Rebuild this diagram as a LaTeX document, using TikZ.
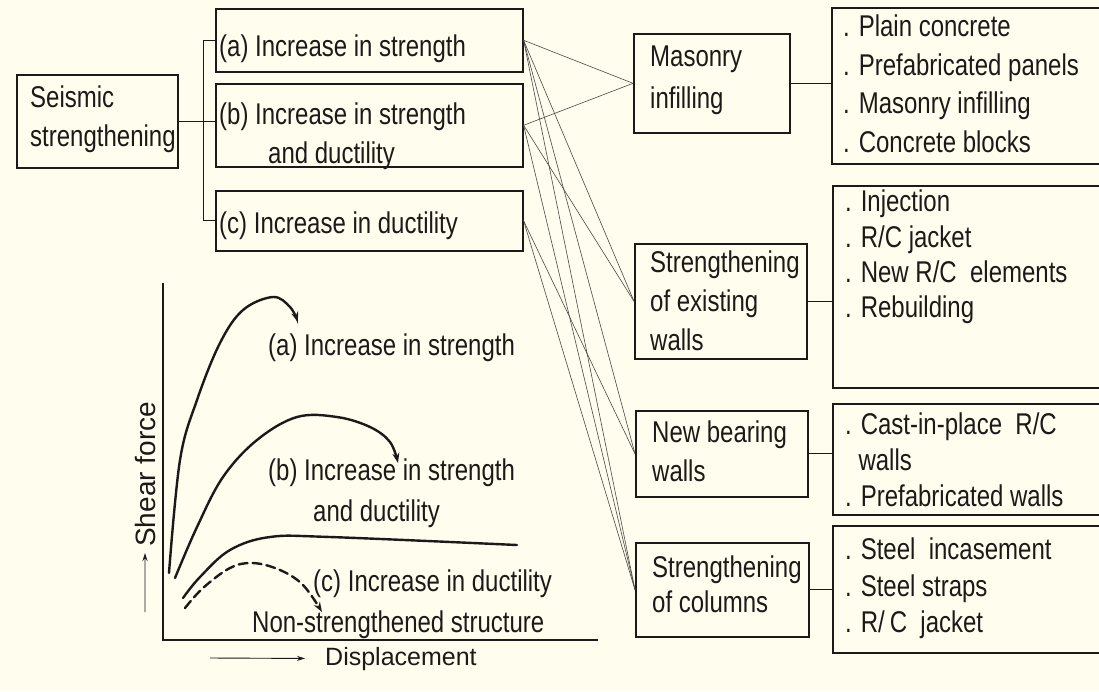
\documentclass[tikz,border=0pt]{standalone}
\usepackage{fontspec}
\setmainfont{Liberation Sans}[FakeStretch=0.8]
\newfontfamily\axisfont{Liberation Sans}
\usepackage{xcolor}
\usetikzlibrary{arrows.meta}
\usetikzlibrary{positioning}
\definecolor{paper}{RGB}{255,253,238}
\definecolor{ink}{RGB}{28,26,24}

\begin{document}
\begin{tikzpicture}[x=1pt,y=-1pt,
		box/.style={draw=ink, line width=1.6pt, anchor=north west, inner sep=0pt},
		txt/.style={ink, anchor=north west, inner sep=0pt, align=left},
		fan/.style={draw=ink!80, line width=0.6pt},
		link/.style={draw=ink, line width=0.9pt},
		curve/.style={draw=ink, line width=2.4pt, line cap=round},
		tip/.style={-{Stealth[length=10pt,width=7pt]}},
		axislbl/.style={ink, inner sep=0pt, font=\axisfont\fontsize{25}{30}\selectfont}]
	% paper
	\fill[paper] (0,0) rectangle (1099,691);
	\useasboundingbox (0,0) rectangle (1099,691);
	% left boxes
	\node[box, minimum width=161pt, minimum height=93pt] (seis) at (16,74) {};
	\node[box, minimum width=307pt, minimum height=63pt] (boxa) at (215,8) {};
	\node[box, minimum width=307pt, minimum height=83pt] (boxb) at (215,83) {};
	\node[box, minimum width=307pt, minimum height=60pt] (boxc) at (215,190) {};
	\node[txt, font=\fontsize{30}{39}\selectfont] (seist) at (30,86) {Seismic\\strengthening};
	\node[txt, font=\fontsize{30}{39}\selectfont] (boxat) at (219,35) {(a) Increase in strength};
	\node[txt, font=\fontsize{30}{39}\selectfont] (boxbt) at (219,103) {(b) Increase in strength\\\hspace*{49pt}and ductility};
	\node[txt, font=\fontsize{30}{39}\selectfont] (boxct) at (219,212) {(c) Increase in ductility};
	% middle boxes
	\node[box, minimum width=156pt, minimum height=99pt] (mas) at (633,33) {};
	\node[box, minimum width=172pt, minimum height=115pt] (exist) at (634,243) {};
	\node[box, minimum width=172pt, minimum height=86pt] (newb) at (635,410) {};
	\node[box, minimum width=173pt, minimum height=94pt] (cols) at (635,542) {};
	\node[txt, font=\fontsize{30}{42}\selectfont] (mast) at (650,46) {Masonry\\infilling};
	\node[txt, font=\fontsize{30}{39}\selectfont] (existt) at (650,251) {Strengthening\\of existing\\walls};
	\node[txt, font=\fontsize{30}{39}\selectfont] (newbt) at (652,421) {New bearing\\walls};
	\node[txt, font=\fontsize{30}{35}\selectfont] (colst) at (652,556) {Strengthening\\of columns};
	% right boxes
	\node[box, minimum width=280pt, minimum height=156pt] (lista) at (831,7) {};
	\node[box, minimum width=280pt, minimum height=202pt] (listb) at (832,185) {};
	\node[box, minimum width=280pt, minimum height=111pt] (listc) at (832,403) {};
	\node[box, minimum width=280pt, minimum height=127pt] (listd) at (832,525) {};
	\node[txt, font=\fontsize{30}{38.5}\selectfont] (listat) at (843,15) {. Plain concrete\\. Prefabricated panels\\. Masonry infilling\\. Concrete blocks};
	\node[txt, font=\fontsize{30}{35.3}\selectfont] (listbt) at (845,190) {. Injection\\. R/C jacket\\. New R/C\ \ elements\\. Rebuilding};
	\node[txt, font=\fontsize{30}{36}\selectfont] (listct) at (845,413) {. Cast-in-place\ \ R/C\\\hphantom{.\ }walls\\. Prefabricated walls};
	\node[txt, font=\fontsize{30}{36.5}\selectfont] (listdt) at (845,538) {. Steel\ \ incasement\\. Steel straps\\. R/\,C\ \ jacket};
	% bracket
	\draw[link] (seis.east) -- (seis.east -| boxb.west);
	\draw[link] (boxa.west) -- ++(-12,0) |- (boxc.west);
	% fan of lines
	\foreach \s/\t in {boxa/mas, boxa/exist, boxa/newb, boxa/cols, boxb/mas, boxb/exist, boxb/cols, boxc/newb, boxc/cols}
		\draw[fan] (\s.east) -- (\t.west);
	% to the lists
	\draw[link] (mas.east) -- (mas.east -| lista.west);
	\draw[link] (exist.east) -- (exist.east -| listb.west);
	\draw[link] (newb.east) -- (newb.east -| listc.west);
	\draw[link] (cols.east) -- (cols.east -| listd.west);
	% draw axes
	\draw[ink, line width=2.6pt] (163,283) -- (163,640) -- (598,640);
	% add curves
	\draw[curve, tip] plot[smooth, tension=0.6] coordinates {(169,573) (180,460) (197,400) (220,343) (243,310) (273,297) (290,307) (298,322)};
	\draw[curve, tip] plot[smooth, tension=0.6] coordinates {(175,578) (197,527) (223,477) (257,440) (297,417) (337,417) (370,427) (390,442) (398,463)};
	\draw[curve] plot[smooth, tension=0.6] coordinates {(183,598) (200,577) (230,550) (270,537) (330,537) (517,545)};
	\draw[curve, dash pattern=on 9pt off 5pt, tip] plot[smooth, tension=0.6] coordinates {(185,608) (203,588) (230,568) (253,563) (280,570) (303,585) (322,612)};
	% curve labels
	\node[txt, font=\fontsize{30}{41}\selectfont] (lbla) at (268,334) {(a) Increase in strength};
	\node[txt, font=\fontsize{30}{41}\selectfont] (lblb) at (268,459) {(b) Increase in strength\\\hspace*{45pt}and ductility};
	\node[txt, font=\fontsize{30}{41}\selectfont] (lblc) at (313,570) {(c) Increase in ductility};
	\node[txt, font=\fontsize{30}{41}\selectfont] (lbln) at (252,611) {Non-strengthened structure};
	% axis labels
	\node[axislbl, font=\axisfont\fontsize{28}{30}\selectfont, rotate=90, anchor=base west] (shear) at (155,547) {Shear force};
	\node[axislbl, anchor=base west] (disp) at (325,665) {Displacement};
	\coordinate (s0) at (145,612);
	\coordinate (d0) at (210,658);
	\draw[link, -{Stealth[length=8pt,width=5pt]}, shorten >=6pt] (s0) -- (shear.west);
	\draw[link, -{Stealth[length=8pt,width=5pt]}, shorten >=20pt] (d0) -- (disp.west);
\end{tikzpicture}
\end{document}
